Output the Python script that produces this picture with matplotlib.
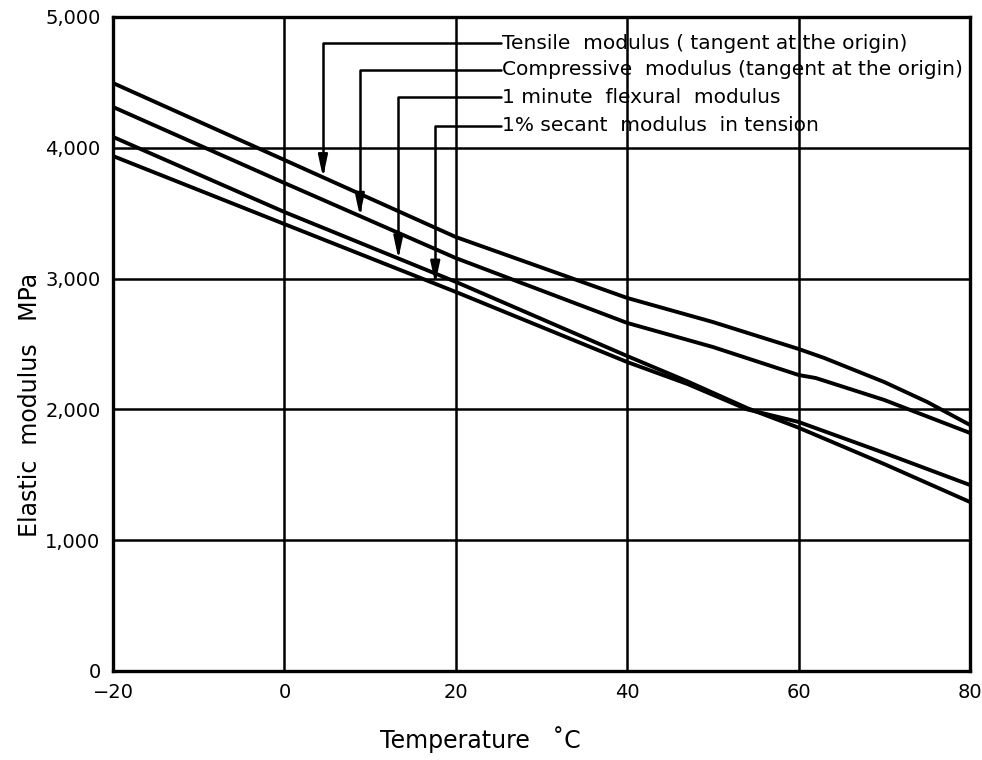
import matplotlib
matplotlib.use("Agg")
import matplotlib.pyplot as plt
import numpy as np

# ---- data ----
tensile_t = [-20, 0, 20, 40, 50, 60, 63, 70, 75, 80]
tensile = [4495, 3907, 3318, 2852, 2668, 2462, 2393, 2209, 2057, 1881]

compressive_t = [-20, 0, 20, 40, 50, 60, 62, 70, 80]
compressive = [4312, 3731, 3157, 2661, 2477, 2263, 2240, 2072, 1820]

flexural_t = [-20, 0, 20, 40, 47, 54, 60, 70, 80]
flexural = [4083, 3509, 2975, 2408, 2215, 2010, 1860, 1582, 1292]

secant_t = [-20, 0, 20, 40, 47, 54, 60, 70, 80]
secant = [3937, 3417, 2898, 2362, 2195, 2000, 1904, 1667, 1422]

labels = [
    "Tensile  modulus ( tangent at the origin)",
    "Compressive  modulus (tangent at the origin)",
    "1 minute  flexural  modulus",
    "1% secant  modulus  in tension",
]
label_y = [4801, 4595, 4388, 4167]
arrow_x = [4.5, 8.8, 13.3, 17.6]

x_ticks = [-20, 0, 20, 40, 60, 80]
y_ticks = [0, 1000, 2000, 3000, 4000, 5000]
y_ticklabels = ["0", "1,000", "2,000", "3,000", "4,000", "5,000"]

series = [(tensile_t, tensile), (compressive_t, compressive),
          (flexural_t, flexural), (secant_t, secant)]

#================   figure   ========================
fig = plt.figure(figsize=(9.82, 7.6), dpi=100)
ax = fig.add_axes([113 / 982, 89 / 760, 857 / 982, 654 / 760])

for t, v in series:
    ax.plot(t, v, color="black", lw=2.8, solid_capstyle="butt", zorder=3)

# leader lines with arrowheads down to each curve
for (t, v), lab, ly, ax_x in zip(series, labels, label_y, arrow_x):
    tip_y = np.interp(ax_x, t, v)
    ax.annotate("", xy=(ax_x, tip_y), xytext=(25.3, ly),
                arrowprops=dict(arrowstyle="-|>,head_length=1.3,head_width=0.28",
                                connectionstyle="angle,angleA=0,angleB=90,rad=0",
                                color="black", lw=1.8, shrinkA=0, shrinkB=0,
                                mutation_scale=10),
                zorder=4)
    ax.text(25.4, ly, lab, fontsize=14.5, va="center", ha="left")

ax.set_xlim(-20, 80)
ax.set_ylim(0, 5000)
ax.set_xticks(x_ticks)
ax.set_yticks(y_ticks)
ax.set_yticklabels(y_ticklabels)
ax.tick_params(length=0, labelsize=14, pad=9)
ax.grid(True, color="black", lw=1.8)
ax.set_axisbelow(True)
for s in ax.spines.values():
    s.set_linewidth(2.4)

fig.text(480 / 982, 1 - 740 / 760, "Temperature   \u02daC", fontsize=17,
         ha="center", va="center")
fig.text(30 / 982, 1 - 405 / 760, "Elastic  modulus   MPa", fontsize=17,
         ha="center", va="center", rotation=90)

fig.savefig("out.png", dpi=100)
